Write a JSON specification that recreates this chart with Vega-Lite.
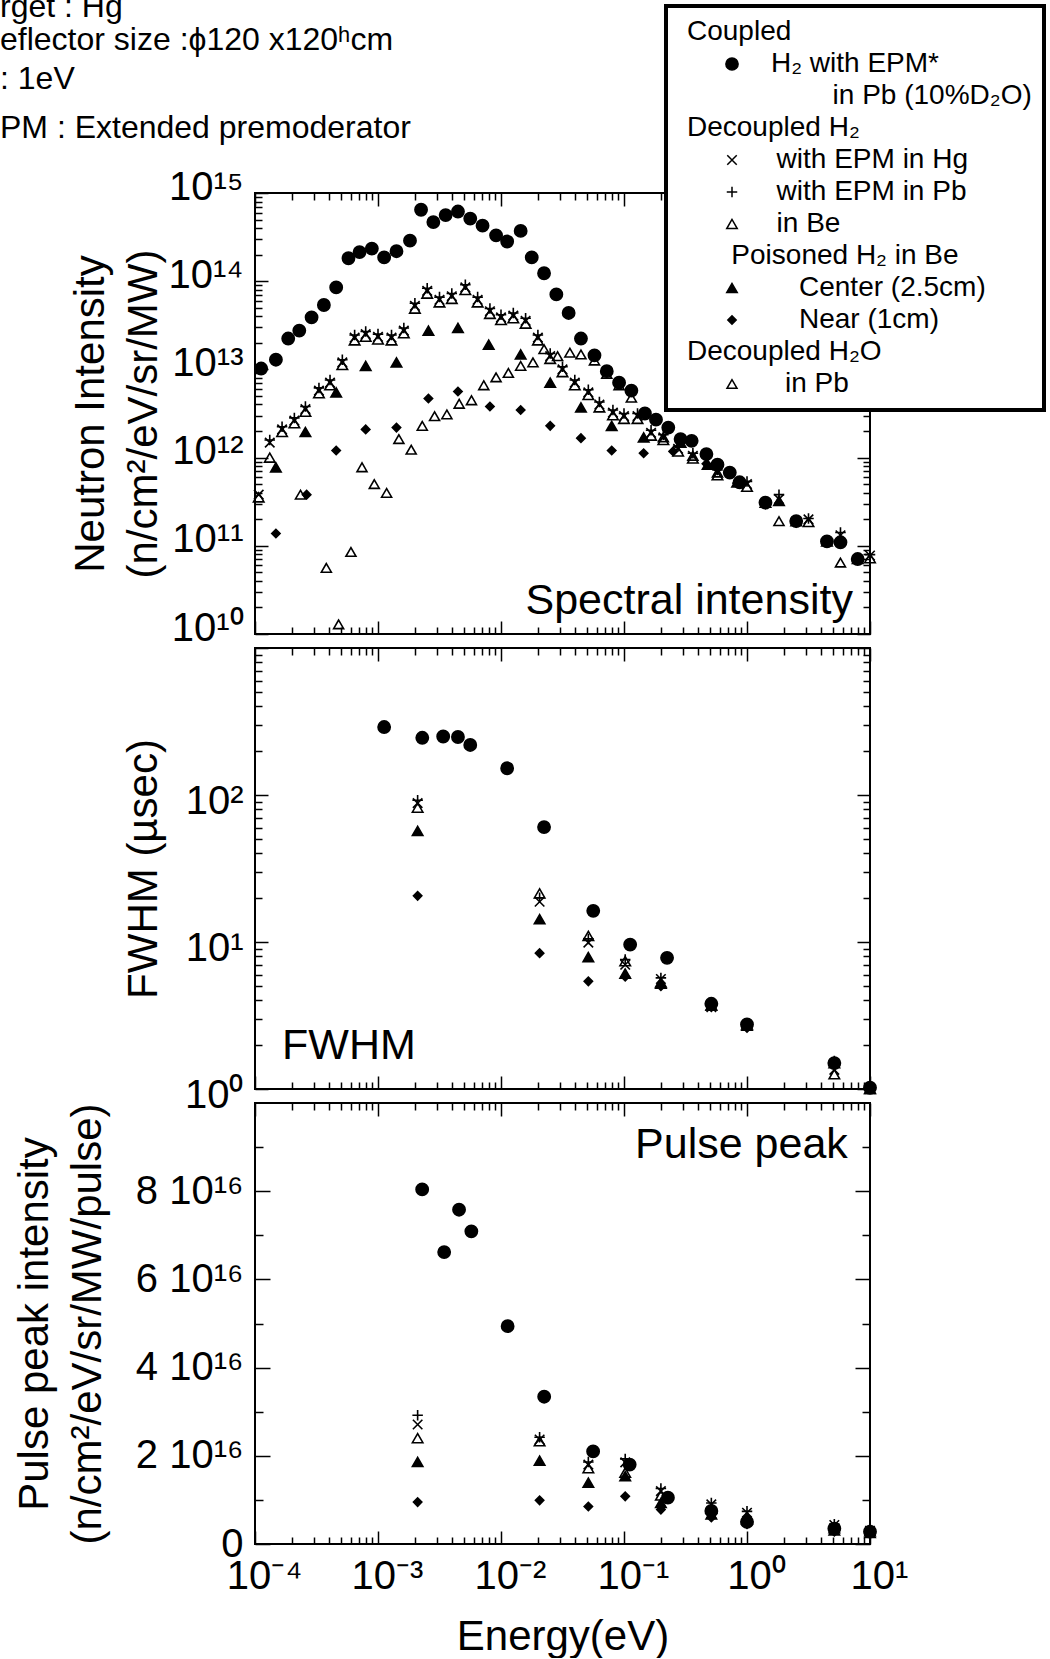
{
"$schema": "https://vega.github.io/schema/vega-lite/v6.json",
"background": "white",
"padding": {"left": 0, "top": -9, "right": 0, "bottom": 0},
"title": {
  "text": ["rget : Hg", "eflector size :ϕ120 x120ʰcm"],
  "subtitle": [": 1eV", "PM : Extended premoderator"],
  "anchor": "start", "frame": "group", "dx": -255, "dy": 142, "offset": 0,
  "font": "Liberation Sans", "fontSize": 32, "fontWeight": "normal", "color": "black", "lineHeight": 33,
  "subtitleFont": "Liberation Sans", "subtitleFontSize": 32, "subtitleColor": "black", "subtitleLineHeight": 49, "subtitlePadding": 7
},
"datasets": {
"spec": [
{"s":"H₂ with EPM*","e":1.122e-4,"v":1.023e13},{"s":"H₂ with EPM*","e":1.479e-4,"v":1.288e13},{"s":"H₂ with EPM*","e":1.862e-4,"v":2.239e13},{"s":"H₂ with EPM*","e":2.291e-4,"v":2.754e13},{"s":"H₂ with EPM*","e":2.884e-4,"v":3.890e13},{"s":"H₂ with EPM*","e":3.631e-4,"v":5.370e13},{"s":"H₂ with EPM*","e":4.571e-4,"v":8.511e13},{"s":"H₂ with EPM*","e":5.754e-4,"v":1.820e14},{"s":"H₂ with EPM*","e":7.079e-4,"v":2.138e14},{"s":"H₂ with EPM*","e":8.913e-4,"v":2.344e14},{"s":"H₂ with EPM*","e":1.122e-3,"v":1.862e14},{"s":"H₂ with EPM*","e":1.413e-3,"v":2.188e14},{"s":"H₂ with EPM*","e":1.820e-3,"v":2.884e14},{"s":"H₂ with EPM*","e":2.239e-3,"v":6.457e14},{"s":"H₂ with EPM*","e":2.818e-3,"v":4.677e14},{"s":"H₂ with EPM*","e":3.548e-3,"v":5.623e14},{"s":"H₂ with EPM*","e":4.467e-3,"v":6.166e14},{"s":"H₂ with EPM*","e":5.623e-3,"v":5.129e14},{"s":"H₂ with EPM*","e":7.079e-3,"v":4.266e14},{"s":"H₂ with EPM*","e":9.120e-3,"v":3.311e14},{"s":"H₂ with EPM*","e":1.122e-2,"v":2.818e14},{"s":"H₂ with EPM*","e":1.445e-2,"v":3.715e14},{"s":"H₂ with EPM*","e":1.778e-2,"v":1.862e14},{"s":"H₂ with EPM*","e":2.239e-2,"v":1.230e14},{"s":"H₂ with EPM*","e":2.818e-2,"v":7.079e13},{"s":"H₂ with EPM*","e":3.548e-2,"v":4.365e13},{"s":"H₂ with EPM*","e":4.467e-2,"v":2.239e13},{"s":"H₂ with EPM*","e":5.754e-2,"v":1.445e13},{"s":"H₂ with EPM*","e":7.244e-2,"v":9.550e12},{"s":"H₂ with EPM*","e":9.120e-2,"v":7.079e12},{"s":"H₂ with EPM*","e":0.1148,"v":5.754e12},{"s":"H₂ with EPM*","e":0.1479,"v":3.162e12},{"s":"H₂ with EPM*","e":0.1820,"v":2.692e12},{"s":"H₂ with EPM*","e":0.2291,"v":2.188e12},{"s":"H₂ with EPM*","e":0.2884,"v":1.622e12},{"s":"H₂ with EPM*","e":0.3548,"v":1.549e12},{"s":"H₂ with EPM*","e":0.4677,"v":1.096e12},{"s":"H₂ with EPM*","e":0.5754,"v":8.318e11},{"s":"H₂ with EPM*","e":0.7244,"v":6.761e11},{"s":"H₂ with EPM*","e":0.8710,"v":5.248e11},{"s":"H₂ with EPM*","e":1.413,"v":3.090e11},{"s":"H₂ with EPM*","e":2.512,"v":1.905e11},{"s":"H₂ with EPM*","e":4.467,"v":1.122e11},{"s":"H₂ with EPM*","e":5.754,"v":1.096e11},{"s":"H₂ with EPM*","e":7.943,"v":7.079e10},
{"s":"with EPM in Hg","e":1.072e-4,"v":3.802e11},{"s":"with EPM in Hg","e":1.318e-4,"v":1.479e12},{"s":"with EPM in Hg","e":1.660e-4,"v":2.089e12},{"s":"with EPM in Hg","e":2.089e-4,"v":2.630e12},{"s":"with EPM in Hg","e":2.570e-4,"v":3.548e12},{"s":"with EPM in Hg","e":3.311e-4,"v":5.754e12},{"s":"with EPM in Hg","e":4.074e-4,"v":7.079e12},{"s":"with EPM in Hg","e":5.129e-4,"v":1.202e13},{"s":"with EPM in Hg","e":6.457e-4,"v":2.291e13},{"s":"with EPM in Hg","e":7.943e-4,"v":2.512e13},{"s":"with EPM in Hg","e":1.0e-3,"v":2.344e13},{"s":"with EPM in Hg","e":1.288e-3,"v":2.291e13},{"s":"with EPM in Hg","e":1.622e-3,"v":2.754e13},{"s":"with EPM in Hg","e":1.995e-3,"v":5.248e13},{"s":"with EPM in Hg","e":2.512e-3,"v":7.762e13},{"s":"with EPM in Hg","e":3.162e-3,"v":6.166e13},{"s":"with EPM in Hg","e":3.981e-3,"v":6.761e13},{"s":"with EPM in Hg","e":5.129e-3,"v":8.511e13},{"s":"with EPM in Hg","e":6.457e-3,"v":6.166e13},{"s":"with EPM in Hg","e":8.128e-3,"v":4.571e13},{"s":"with EPM in Hg","e":1.0e-2,"v":3.890e13},{"s":"with EPM in Hg","e":1.259e-2,"v":4.074e13},{"s":"with EPM in Hg","e":1.585e-2,"v":3.548e13},{"s":"with EPM in Hg","e":1.995e-2,"v":2.291e13},{"s":"with EPM in Hg","e":2.512e-2,"v":1.413e13},{"s":"with EPM in Hg","e":3.162e-2,"v":1.0e13},{"s":"with EPM in Hg","e":3.981e-2,"v":7.079e12},{"s":"with EPM in Hg","e":5.129e-2,"v":5.495e12},{"s":"with EPM in Hg","e":6.310e-2,"v":3.981e12},{"s":"with EPM in Hg","e":8.128e-2,"v":3.236e12},{"s":"with EPM in Hg","e":0.1,"v":2.951e12},{"s":"with EPM in Hg","e":0.1288,"v":2.951e12},{"s":"with EPM in Hg","e":0.1660,"v":1.905e12},{"s":"with EPM in Hg","e":0.2089,"v":1.698e12},{"s":"with EPM in Hg","e":0.2754,"v":1.259e12},{"s":"with EPM in Hg","e":0.3631,"v":1.047e12},{"s":"with EPM in Hg","e":0.5754,"v":6.761e11},{"s":"with EPM in Hg","e":1.0,"v":5.012e11},{"s":"with EPM in Hg","e":1.820,"v":3.388e11},{"s":"with EPM in Hg","e":3.162,"v":1.995e11},{"s":"with EPM in Hg","e":5.754,"v":1.318e11},{"s":"with EPM in Hg","e":10,"v":7.762e10},
{"s":"with EPM in Pb","e":1.318e-4,"v":1.585e12},{"s":"with EPM in Pb","e":1.660e-4,"v":2.239e12},{"s":"with EPM in Pb","e":2.089e-4,"v":2.818e12},{"s":"with EPM in Pb","e":2.570e-4,"v":3.802e12},{"s":"with EPM in Pb","e":3.311e-4,"v":6.166e12},{"s":"with EPM in Pb","e":4.074e-4,"v":7.586e12},{"s":"with EPM in Pb","e":5.129e-4,"v":1.288e13},{"s":"with EPM in Pb","e":6.457e-4,"v":2.455e13},{"s":"with EPM in Pb","e":7.943e-4,"v":2.692e13},{"s":"with EPM in Pb","e":1.0e-3,"v":2.512e13},{"s":"with EPM in Pb","e":1.288e-3,"v":2.455e13},{"s":"with EPM in Pb","e":1.622e-3,"v":2.951e13},{"s":"with EPM in Pb","e":1.995e-3,"v":5.623e13},{"s":"with EPM in Pb","e":2.512e-3,"v":8.318e13},{"s":"with EPM in Pb","e":3.162e-3,"v":6.607e13},{"s":"with EPM in Pb","e":3.981e-3,"v":7.244e13},{"s":"with EPM in Pb","e":5.129e-3,"v":9.120e13},{"s":"with EPM in Pb","e":6.457e-3,"v":6.607e13},{"s":"with EPM in Pb","e":8.128e-3,"v":4.898e13},{"s":"with EPM in Pb","e":1.0e-2,"v":4.169e13},{"s":"with EPM in Pb","e":1.259e-2,"v":4.365e13},{"s":"with EPM in Pb","e":1.585e-2,"v":3.802e13},{"s":"with EPM in Pb","e":1.995e-2,"v":2.455e13},{"s":"with EPM in Pb","e":2.512e-2,"v":1.514e13},{"s":"with EPM in Pb","e":3.162e-2,"v":1.072e13},{"s":"with EPM in Pb","e":3.981e-2,"v":7.586e12},{"s":"with EPM in Pb","e":5.129e-2,"v":5.888e12},{"s":"with EPM in Pb","e":6.310e-2,"v":4.266e12},{"s":"with EPM in Pb","e":8.128e-2,"v":3.467e12},{"s":"with EPM in Pb","e":0.1,"v":3.162e12},{"s":"with EPM in Pb","e":0.1288,"v":3.162e12},{"s":"with EPM in Pb","e":0.1660,"v":2.042e12},{"s":"with EPM in Pb","e":0.2089,"v":1.820e12},{"s":"with EPM in Pb","e":0.2754,"v":1.349e12},{"s":"with EPM in Pb","e":0.3631,"v":1.122e12},{"s":"with EPM in Pb","e":0.5754,"v":7.244e11},{"s":"with EPM in Pb","e":1.0,"v":5.370e11},{"s":"with EPM in Pb","e":1.820,"v":3.802e11},{"s":"with EPM in Pb","e":3.162,"v":2.042e11},{"s":"with EPM in Pb","e":5.754,"v":1.413e11},{"s":"with EPM in Pb","e":10,"v":7.943e10},
{"s":"in Be","e":1.072e-4,"v":3.548e11},{"s":"in Be","e":1.318e-4,"v":1.0e12},{"s":"in Be","e":1.660e-4,"v":1.950e12},{"s":"in Be","e":2.089e-4,"v":2.455e12},{"s":"in Be","e":2.570e-4,"v":3.311e12},{"s":"in Be","e":3.311e-4,"v":5.370e12},{"s":"in Be","e":4.074e-4,"v":6.607e12},{"s":"in Be","e":5.129e-4,"v":1.122e13},{"s":"in Be","e":6.457e-4,"v":2.138e13},{"s":"in Be","e":7.943e-4,"v":2.344e13},{"s":"in Be","e":1.0e-3,"v":2.188e13},{"s":"in Be","e":1.288e-3,"v":2.138e13},{"s":"in Be","e":1.622e-3,"v":2.570e13},{"s":"in Be","e":1.995e-3,"v":4.898e13},{"s":"in Be","e":2.512e-3,"v":7.244e13},{"s":"in Be","e":3.162e-3,"v":5.754e13},{"s":"in Be","e":3.981e-3,"v":6.310e13},{"s":"in Be","e":5.129e-3,"v":7.943e13},{"s":"in Be","e":6.457e-3,"v":5.754e13},{"s":"in Be","e":8.128e-3,"v":4.266e13},{"s":"in Be","e":1.0e-2,"v":3.631e13},{"s":"in Be","e":1.259e-2,"v":3.802e13},{"s":"in Be","e":1.585e-2,"v":3.311e13},{"s":"in Be","e":1.995e-2,"v":2.138e13},{"s":"in Be","e":2.512e-2,"v":1.318e13},{"s":"in Be","e":3.162e-2,"v":9.333e12},{"s":"in Be","e":3.981e-2,"v":6.607e12},{"s":"in Be","e":5.129e-2,"v":5.129e12},{"s":"in Be","e":6.310e-2,"v":3.715e12},{"s":"in Be","e":8.128e-2,"v":3.020e12},{"s":"in Be","e":0.1,"v":2.754e12},{"s":"in Be","e":0.1288,"v":2.754e12},{"s":"in Be","e":0.1660,"v":1.778e12},{"s":"in Be","e":0.2089,"v":1.585e12},{"s":"in Be","e":0.2754,"v":1.175e12},{"s":"in Be","e":0.3631,"v":9.772e11},{"s":"in Be","e":0.5754,"v":6.310e11},{"s":"in Be","e":1.0,"v":4.677e11},{"s":"in Be","e":3.162,"v":1.862e11},{"s":"in Be","e":10,"v":7.244e10},
{"s":"in Pb","e":2.344e-4,"v":3.802e11},{"s":"in Pb","e":3.802e-4,"v":5.623e10},{"s":"in Pb","e":4.786e-4,"v":1.288e10},{"s":"in Pb","e":6.026e-4,"v":8.511e10},{"s":"in Pb","e":7.413e-4,"v":7.762e11},{"s":"in Pb","e":9.333e-4,"v":5.012e11},{"s":"in Pb","e":1.175e-3,"v":3.981e11},{"s":"in Pb","e":1.479e-3,"v":1.622e12},{"s":"in Pb","e":1.862e-3,"v":1.230e12},{"s":"in Pb","e":2.291e-3,"v":2.291e12},{"s":"in Pb","e":2.884e-3,"v":2.951e12},{"s":"in Pb","e":3.631e-3,"v":3.090e12},{"s":"in Pb","e":4.571e-3,"v":4.074e12},{"s":"in Pb","e":5.754e-3,"v":4.467e12},{"s":"in Pb","e":7.244e-3,"v":6.607e12},{"s":"in Pb","e":9.120e-3,"v":8.128e12},{"s":"in Pb","e":1.148e-2,"v":9.120e12},{"s":"in Pb","e":1.445e-2,"v":1.096e13},{"s":"in Pb","e":1.820e-2,"v":1.202e13},{"s":"in Pb","e":2.239e-2,"v":1.698e13},{"s":"in Pb","e":2.884e-2,"v":1.413e13},{"s":"in Pb","e":3.631e-2,"v":1.549e13},{"s":"in Pb","e":4.467e-2,"v":1.479e13},{"s":"in Pb","e":5.754e-2,"v":1.259e13},{"s":"in Pb","e":7.244e-2,"v":8.913e12},{"s":"in Pb","e":9.120e-2,"v":6.607e12},{"s":"in Pb","e":0.1148,"v":4.786e12},{"s":"in Pb","e":0.2089,"v":1.698e12},{"s":"in Pb","e":0.3631,"v":1.047e12},{"s":"in Pb","e":0.5754,"v":6.761e11},{"s":"in Pb","e":1.820,"v":1.905e11},{"s":"in Pb","e":5.754,"v":6.457e10},
{"s":"Center (2.5cm)","e":1.479e-4,"v":7.762e11},{"s":"Center (2.5cm)","e":2.570e-4,"v":1.950e12},{"s":"Center (2.5cm)","e":4.571e-4,"v":5.495e12},{"s":"Center (2.5cm)","e":7.943e-4,"v":1.096e13},{"s":"Center (2.5cm)","e":1.413e-3,"v":1.202e13},{"s":"Center (2.5cm)","e":2.570e-3,"v":2.754e13},{"s":"Center (2.5cm)","e":4.467e-3,"v":2.951e13},{"s":"Center (2.5cm)","e":7.943e-3,"v":1.905e13},{"s":"Center (2.5cm)","e":1.445e-2,"v":1.479e13},{"s":"Center (2.5cm)","e":2.512e-2,"v":7.079e12},{"s":"Center (2.5cm)","e":4.467e-2,"v":3.715e12},{"s":"Center (2.5cm)","e":7.943e-2,"v":2.291e12},{"s":"Center (2.5cm)","e":0.1445,"v":1.698e12},{"s":"Center (2.5cm)","e":0.2884,"v":1.479e12},{"s":"Center (2.5cm)","e":0.4786,"v":8.318e11},{"s":"Center (2.5cm)","e":0.8318,"v":5.248e11},{"s":"Center (2.5cm)","e":1.413,"v":3.090e11},{"s":"Center (2.5cm)","e":1.820,"v":3.236e11},{"s":"Center (2.5cm)","e":2.512,"v":1.905e11},{"s":"Center (2.5cm)","e":4.467,"v":1.122e11},{"s":"Center (2.5cm)","e":7.943,"v":7.079e10},
{"s":"Near (1cm)","e":1.479e-4,"v":1.380e11},{"s":"Near (1cm)","e":2.630e-4,"v":3.802e11},{"s":"Near (1cm)","e":4.571e-4,"v":1.202e12},{"s":"Near (1cm)","e":7.943e-4,"v":2.089e12},{"s":"Near (1cm)","e":1.413e-3,"v":2.188e12},{"s":"Near (1cm)","e":2.570e-3,"v":4.677e12},{"s":"Near (1cm)","e":4.467e-3,"v":5.623e12},{"s":"Near (1cm)","e":8.128e-3,"v":3.802e12},{"s":"Near (1cm)","e":1.445e-2,"v":3.467e12},{"s":"Near (1cm)","e":2.512e-2,"v":2.291e12},{"s":"Near (1cm)","e":4.467e-2,"v":1.660e12},{"s":"Near (1cm)","e":7.943e-2,"v":1.202e12},{"s":"Near (1cm)","e":0.1445,"v":1.122e12},{"s":"Near (1cm)","e":0.2512,"v":1.175e12},{"s":"Near (1cm)","e":0.4677,"v":8.511e11},{"s":"Near (1cm)","e":0.8318,"v":5.129e11},{"s":"Near (1cm)","e":1.413,"v":2.951e11},{"s":"Near (1cm)","e":2.512,"v":1.820e11},{"s":"Near (1cm)","e":4.467,"v":1.096e11},{"s":"Near (1cm)","e":7.943,"v":6.918e10}
],
"fwhm": [
{"s":"H₂ with EPM*","e":1.122e-3,"v":290},{"s":"H₂ with EPM*","e":2.291e-3,"v":245},{"s":"H₂ with EPM*","e":3.388e-3,"v":250},{"s":"H₂ with EPM*","e":4.467e-3,"v":248},{"s":"H₂ with EPM*","e":5.623e-3,"v":219},{"s":"H₂ with EPM*","e":1.122e-2,"v":152},{"s":"H₂ with EPM*","e":2.239e-2,"v":60.5},{"s":"H₂ with EPM*","e":5.623e-2,"v":16.3},{"s":"H₂ with EPM*","e":0.1122,"v":9.6},{"s":"H₂ with EPM*","e":0.2239,"v":7.8},{"s":"H₂ with EPM*","e":0.5129,"v":3.8},{"s":"H₂ with EPM*","e":1.0,"v":2.75},{"s":"H₂ with EPM*","e":5.129,"v":1.5},{"s":"H₂ with EPM*","e":10,"v":1.02},
{"s":"with EPM in Hg","e":2.1e-3,"v":88},{"s":"with EPM in Hg","e":2.06e-2,"v":18.8},{"s":"with EPM in Hg","e":5.13e-2,"v":9.9},{"s":"with EPM in Hg","e":0.1023,"v":7.0},{"s":"with EPM in Hg","e":0.1995,"v":5.6},{"s":"with EPM in Hg","e":0.5129,"v":3.6},{"s":"with EPM in Hg","e":1.0,"v":2.7},{"s":"with EPM in Hg","e":5.129,"v":1.35},{"s":"with EPM in Hg","e":10,"v":1.0},
{"s":"with EPM in Pb","e":2.1e-3,"v":92},{"s":"with EPM in Pb","e":2.06e-2,"v":20},{"s":"with EPM in Pb","e":5.13e-2,"v":10.5},{"s":"with EPM in Pb","e":0.1023,"v":7.6},{"s":"with EPM in Pb","e":0.1995,"v":5.7},{"s":"with EPM in Pb","e":0.5129,"v":3.8},{"s":"with EPM in Pb","e":1.0,"v":2.8},{"s":"with EPM in Pb","e":5.129,"v":1.55},{"s":"with EPM in Pb","e":10,"v":1.02},
{"s":"in Be","e":2.1e-3,"v":82},{"s":"in Be","e":2.06e-2,"v":21.4},{"s":"in Be","e":5.13e-2,"v":11},{"s":"in Be","e":0.1023,"v":7.4},{"s":"in Be","e":0.1995,"v":5.3},{"s":"in Be","e":0.5129,"v":3.7},{"s":"in Be","e":1.0,"v":2.7},{"s":"in Be","e":5.129,"v":1.26},{"s":"in Be","e":10,"v":1.0},
{"s":"Center (2.5cm)","e":2.1e-3,"v":57},{"s":"Center (2.5cm)","e":2.06e-2,"v":14.3},{"s":"Center (2.5cm)","e":5.13e-2,"v":7.9},{"s":"Center (2.5cm)","e":0.1023,"v":6.1},{"s":"Center (2.5cm)","e":0.1995,"v":5.2},{"s":"Center (2.5cm)","e":0.5129,"v":3.7},{"s":"Center (2.5cm)","e":1.0,"v":2.75},{"s":"Center (2.5cm)","e":5.129,"v":1.5},{"s":"Center (2.5cm)","e":10,"v":1.0},
{"s":"Near (1cm)","e":2.1e-3,"v":20.6},{"s":"Near (1cm)","e":2.06e-2,"v":8.4},{"s":"Near (1cm)","e":5.13e-2,"v":5.4},{"s":"Near (1cm)","e":0.1023,"v":5.8},{"s":"Near (1cm)","e":0.1995,"v":5.0},{"s":"Near (1cm)","e":0.5129,"v":3.6},{"s":"Near (1cm)","e":1.0,"v":2.6},{"s":"Near (1cm)","e":5.129,"v":1.45}
],
"peak": [
{"s":"H₂ with EPM*","e":2.286e-3,"v":8.04e16},{"s":"H₂ with EPM*","e":3.451e-3,"v":6.62e16},{"s":"H₂ with EPM*","e":4.56e-3,"v":7.58e16},{"s":"H₂ with EPM*","e":5.74e-3,"v":7.09e16},{"s":"H₂ with EPM*","e":1.132e-2,"v":4.94e16},{"s":"H₂ with EPM*","e":2.244e-2,"v":3.34e16},{"s":"H₂ with EPM*","e":5.61e-2,"v":2.10e16},{"s":"H₂ with EPM*","e":0.1112,"v":1.80e16},{"s":"H₂ with EPM*","e":0.2275,"v":1.05e16},{"s":"H₂ with EPM*","e":0.513,"v":0.75e16},{"s":"H₂ with EPM*","e":1.0,"v":0.5e16},{"s":"H₂ with EPM*","e":5.13,"v":0.35e16},{"s":"H₂ with EPM*","e":10,"v":0.28e16},
{"s":"with EPM in Hg","e":2.1e-3,"v":2.71e16},{"s":"with EPM in Hg","e":2.06e-2,"v":2.37e16},{"s":"with EPM in Hg","e":5.13e-2,"v":1.80e16},{"s":"with EPM in Hg","e":0.1023,"v":1.85e16},{"s":"with EPM in Hg","e":0.1995,"v":1.2e16},{"s":"with EPM in Hg","e":0.5129,"v":0.9e16},{"s":"with EPM in Hg","e":1.0,"v":0.71e16},{"s":"with EPM in Hg","e":5.129,"v":0.43e16},{"s":"with EPM in Hg","e":10,"v":0.3e16},
{"s":"with EPM in Pb","e":2.1e-3,"v":2.92e16},{"s":"with EPM in Pb","e":2.06e-2,"v":2.42e16},{"s":"with EPM in Pb","e":5.13e-2,"v":1.86e16},{"s":"with EPM in Pb","e":0.1023,"v":1.93e16},{"s":"with EPM in Pb","e":0.1995,"v":1.26e16},{"s":"with EPM in Pb","e":0.5129,"v":0.93e16},{"s":"with EPM in Pb","e":1.0,"v":0.74e16},{"s":"with EPM in Pb","e":5.129,"v":0.45e16},{"s":"with EPM in Pb","e":10,"v":0.31e16},
{"s":"in Be","e":2.1e-3,"v":2.40e16},{"s":"in Be","e":2.06e-2,"v":2.33e16},{"s":"in Be","e":5.13e-2,"v":1.72e16},{"s":"in Be","e":0.1023,"v":1.62e16},{"s":"in Be","e":0.1995,"v":1.1e16},{"s":"in Be","e":0.5129,"v":0.8e16},{"s":"in Be","e":1.0,"v":0.62e16},{"s":"in Be","e":5.129,"v":0.36e16},{"s":"in Be","e":10,"v":0.29e16},
{"s":"Center (2.5cm)","e":2.1e-3,"v":1.86e16},{"s":"Center (2.5cm)","e":2.06e-2,"v":1.89e16},{"s":"Center (2.5cm)","e":5.13e-2,"v":1.39e16},{"s":"Center (2.5cm)","e":0.1023,"v":1.54e16},{"s":"Center (2.5cm)","e":0.1995,"v":0.93e16},{"s":"Center (2.5cm)","e":0.5129,"v":0.67e16},{"s":"Center (2.5cm)","e":1.0,"v":0.56e16},{"s":"Center (2.5cm)","e":5.129,"v":0.31e16},{"s":"Center (2.5cm)","e":10,"v":0.25e16},
{"s":"Near (1cm)","e":2.1e-3,"v":0.95e16},{"s":"Near (1cm)","e":2.06e-2,"v":0.99e16},{"s":"Near (1cm)","e":5.13e-2,"v":0.85e16},{"s":"Near (1cm)","e":0.1023,"v":1.08e16},{"s":"Near (1cm)","e":0.1995,"v":0.78e16},{"s":"Near (1cm)","e":0.5129,"v":0.6e16},{"s":"Near (1cm)","e":1.0,"v":0.45e16},{"s":"Near (1cm)","e":5.129,"v":0.28e16}
]
},
"spacing": 14,
"bounds": "flush",
"resolve": {"legend": {"shape": "independent", "size": "independent", "fill": "independent"}},
"vconcat": [
{
  "width": 615, "height": 441,
  "data": {"name": "spec"},
  "layer": [
    {
      "mark": {"type": "point", "opacity": 1, "stroke": "black", "strokeWidth": 1.6},
      "encoding": {
        "x": {"field": "e", "type": "quantitative", "scale": {"type": "log", "domain": [0.0001, 10], "nice": false},
          "axis": {"orient": "bottom", "labels": false, "title": null, "tickSize": -13, "values": [0.0001,0.001,0.01,0.1,1,10]}},
        "y": {"field": "v", "type": "quantitative", "scale": {"type": "log", "domain": [1e10, 1e15], "nice": false},
          "axis": {"orient": "left", "title": ["Neutron Intensity", "(n/cm²/eV/sr/MW)"], "tickSize": -13, "labelPadding": 25,
            "values": [1e10,1e11,1e12,1e13,1e14,1e15],
            "labelExpr": "'10'+(round(log(datum.value)/LN10)<0?'⁻':'')+(abs(round(log(datum.value)/LN10))>=10?'¹':'')+substring('⁰¹²³⁴⁵⁶⁷⁸⁹',abs(round(log(datum.value)/LN10))%10,abs(round(log(datum.value)/LN10))%10+1)",
            "labelOffset": -6,
            "titleX": -165, "titleY": 220.5, "titleAngle": -90, "titleAlign": "center", "titleBaseline": "middle", "titleLineHeight": 53}},
        "shape": {"field": "s", "type": "nominal",
          "scale": {"domain": ["Coupled","H₂ with EPM*","in Pb (10%D₂O)","Decoupled H₂","with EPM in Hg","with EPM in Pb","in Be","Poisoned H₂ in Be","Center (2.5cm)","Near (1cm)","Decoupled H₂O","in Pb"],
            "range": ["circle","circle","circle","circle","M-1,-1L1,1M-1,1L1,-1","M-1,0L1,0M0,-1L0,1","triangle-up","circle","triangle-up","diamond","circle","triangle-up"]},
          "legend": {"orient": "none", "legendX": 411, "legendY": -187, "title": null,
            "values": ["Coupled","H₂ with EPM*","in Pb (10%D₂O)","Decoupled H₂","with EPM in Hg","with EPM in Pb","in Be","Poisoned H₂ in Be","Center (2.5cm)","Near (1cm)","Decoupled H₂O","in Pb"],
            "labelExpr": "(datum.label==='Coupled'||datum.label==='Decoupled H₂'||datum.label==='Decoupled H₂O') ? datum.label : datum.label==='Poisoned H₂ in Be' ? '\u200b\u2003\u2002\u200a'+datum.label : datum.label==='H₂ with EPM*' ? '\u200b\u2003\u2003\u2003'+datum.label : datum.label==='in Pb (10%D₂O)' ? '\u200b\u2003\u2003\u2003\u2003\u2003\u2009'+datum.label : (datum.label==='Center (2.5cm)'||datum.label==='Near (1cm)') ? '\u200b\u2003\u2003\u2003\u2003'+datum.label : datum.label==='in Pb' ? '\u200b\u2003\u2003\u2003\u2002'+datum.label : '\u200b\u2003\u2003\u2003\u2009'+datum.label",
            "padding": 12, "symbolOffset": 40, "labelOffset": -59, "rowPadding": 4,
            "labelFontSize": 28, "labelFont": "Liberation Sans", "labelColor": "black", "labelLimit": 600,
            "fillColor": "white", "strokeColor": "black", "zindex": 5}},
        "size": {"field": "s", "type": "nominal",
          "scale": {"type": "ordinal", "domain": ["Coupled","H₂ with EPM*","in Pb (10%D₂O)","Decoupled H₂","with EPM in Hg","with EPM in Pb","in Be","Poisoned H₂ in Be","Center (2.5cm)","Near (1cm)","Decoupled H₂O","in Pb"],
            "range": [0,150,0,0,90,110,110,0,110,70,0,100]}},
        "fill": {"field": "s", "type": "nominal",
          "scale": {"domain": ["Coupled","H₂ with EPM*","in Pb (10%D₂O)","Decoupled H₂","with EPM in Hg","with EPM in Pb","in Be","Poisoned H₂ in Be","Center (2.5cm)","Near (1cm)","Decoupled H₂O","in Pb"],
            "range": ["transparent","black","transparent","transparent","transparent","transparent","transparent","transparent","black","black","transparent","transparent"]}}
      }
    },
    {
      "mark": {"type": "point", "opacity": 0},
      "encoding": {
        "x": {"field": "e", "type": "quantitative", "scale": {"type": "log", "domain": [0.0001, 10], "nice": false},
          "axis": {"orient": "bottom", "labels": false, "title": null, "tickSize": -7,
            "values": [0.0002,0.0003,0.0004,0.0005,0.0006,0.0007,0.0008,0.0009,0.002,0.003,0.004,0.005,0.006,0.007,0.008,0.009,0.02,0.03,0.04,0.05,0.06,0.07,0.08,0.09,0.2,0.3,0.4,0.5,0.6,0.7,0.8,0.9,2,3,4,5,6,7,8,9]}},
        "y": {"field": "v", "type": "quantitative", "scale": {"type": "log", "domain": [1e10, 1e15], "nice": false},
          "axis": {"orient": "left", "labels": false, "title": null, "tickSize": -7,
            "values": [2e10,3e10,4e10,5e10,6e10,7e10,8e10,9e10,2e11,3e11,4e11,5e11,6e11,7e11,8e11,9e11,2e12,3e12,4e12,5e12,6e12,7e12,8e12,9e12,2e13,3e13,4e13,5e13,6e13,7e13,8e13,9e13,2e14,3e14,4e14,5e14,6e14,7e14,8e14,9e14]}}
      }
    },
    {
      "mark": {"type": "point", "opacity": 0},
      "encoding": {
        "x": {"field": "e", "type": "quantitative", "scale": {"type": "log", "domain": [0.0001, 10], "nice": false},
          "axis": {"orient": "top", "labels": false, "title": null, "tickSize": -13, "values": [0.0001,0.001,0.01,0.1,1,10]}},
        "y": {"field": "v", "type": "quantitative", "scale": {"type": "log", "domain": [1e10, 1e15], "nice": false},
          "axis": {"orient": "right", "labels": false, "title": null, "tickSize": -13, "values": [1e10,1e11,1e12,1e13,1e14,1e15]}}
      }
    },
    {
      "mark": {"type": "point", "opacity": 0},
      "encoding": {
        "x": {"field": "e", "type": "quantitative", "scale": {"type": "log", "domain": [0.0001, 10], "nice": false},
          "axis": {"orient": "top", "labels": false, "title": null, "tickSize": -7,
            "values": [0.0002,0.0003,0.0004,0.0005,0.0006,0.0007,0.0008,0.0009,0.002,0.003,0.004,0.005,0.006,0.007,0.008,0.009,0.02,0.03,0.04,0.05,0.06,0.07,0.08,0.09,0.2,0.3,0.4,0.5,0.6,0.7,0.8,0.9,2,3,4,5,6,7,8,9]}},
        "y": {"field": "v", "type": "quantitative", "scale": {"type": "log", "domain": [1e10, 1e15], "nice": false},
          "axis": {"orient": "right", "labels": false, "title": null, "tickSize": -7,
            "values": [2e10,3e10,4e10,5e10,6e10,7e10,8e10,9e10,2e11,3e11,4e11,5e11,6e11,7e11,8e11,9e11,2e12,3e12,4e12,5e12,6e12,7e12,8e12,9e12,2e13,3e13,4e13,5e13,6e13,7e13,8e13,9e13,2e14,3e14,4e14,5e14,6e14,7e14,8e14,9e14]}}
      }
    },
    {
      "data": {"values": [{"t": "Spectral intensity"}]},
      "mark": {"type": "text", "align": "right", "baseline": "middle", "fontSize": 43, "font": "Liberation Sans", "color": "black"},
      "encoding": {
        "x": {"datum": 7.26, "type": "quantitative", "axis": null},
        "y": {"datum": 2.37e10, "type": "quantitative", "axis": null},
        "text": {"field": "t"}
      }
    }
  ],
  "resolve": {"axis": {"x": "independent", "y": "independent"}}
},
{
  "width": 615, "height": 441,
  "data": {"name": "fwhm"},
  "layer": [
    {
      "mark": {"type": "point", "opacity": 1, "stroke": "black", "strokeWidth": 1.6},
      "encoding": {
        "x": {"field": "e", "type": "quantitative", "scale": {"type": "log", "domain": [0.0001, 10], "nice": false},
          "axis": {"orient": "bottom", "labels": false, "title": null, "tickSize": -13, "values": [0.0001,0.001,0.01,0.1,1,10]}},
        "y": {"field": "v", "type": "quantitative", "scale": {"type": "log", "domain": [1, 1000], "nice": false},
          "axis": {"orient": "left", "title": "FWHM (µsec)", "tickSize": -13, "labelPadding": 25,
            "values": [1,10,100,1000],
            "labelExpr": "datum.value>=999 ? '' : '10'+substring('⁰¹²³⁴⁵⁶⁷⁸⁹',abs(round(log(datum.value)/LN10))%10,abs(round(log(datum.value)/LN10))%10+1)",
            "labelOffset": 6,
            "titleX": -112, "titleY": 220.5, "titleAngle": -90, "titleAlign": "center", "titleBaseline": "middle"}},
        "shape": {"field": "s", "type": "nominal", "legend": null,
          "scale": {"domain": ["Coupled","H₂ with EPM*","in Pb (10%D₂O)","Decoupled H₂","with EPM in Hg","with EPM in Pb","in Be","Poisoned H₂ in Be","Center (2.5cm)","Near (1cm)","Decoupled H₂O","in Pb"],
            "range": ["circle","circle","circle","circle","M-1,-1L1,1M-1,1L1,-1","M-1,0L1,0M0,-1L0,1","triangle-up","circle","triangle-up","diamond","circle","triangle-up"]}},
        "size": {"field": "s", "type": "nominal", "legend": null,
          "scale": {"type": "ordinal", "domain": ["Coupled","H₂ with EPM*","in Pb (10%D₂O)","Decoupled H₂","with EPM in Hg","with EPM in Pb","in Be","Poisoned H₂ in Be","Center (2.5cm)","Near (1cm)","Decoupled H₂O","in Pb"],
            "range": [0,150,0,0,90,110,110,0,110,70,0,100]}},
        "fill": {"field": "s", "type": "nominal", "legend": null,
          "scale": {"domain": ["Coupled","H₂ with EPM*","in Pb (10%D₂O)","Decoupled H₂","with EPM in Hg","with EPM in Pb","in Be","Poisoned H₂ in Be","Center (2.5cm)","Near (1cm)","Decoupled H₂O","in Pb"],
            "range": ["transparent","black","transparent","transparent","transparent","transparent","transparent","transparent","black","black","transparent","transparent"]}}
      }
    },
    {
      "mark": {"type": "point", "opacity": 0},
      "encoding": {
        "x": {"field": "e", "type": "quantitative", "scale": {"type": "log", "domain": [0.0001, 10], "nice": false},
          "axis": {"orient": "bottom", "labels": false, "title": null, "tickSize": -7,
            "values": [0.0002,0.0003,0.0004,0.0005,0.0006,0.0007,0.0008,0.0009,0.002,0.003,0.004,0.005,0.006,0.007,0.008,0.009,0.02,0.03,0.04,0.05,0.06,0.07,0.08,0.09,0.2,0.3,0.4,0.5,0.6,0.7,0.8,0.9,2,3,4,5,6,7,8,9]}},
        "y": {"field": "v", "type": "quantitative", "scale": {"type": "log", "domain": [1, 1000], "nice": false},
          "axis": {"orient": "left", "labels": false, "title": null, "tickSize": -7,
            "values": [2,3,4,5,6,7,8,9,20,30,40,50,60,70,80,90,200,300,400,500,600,700,800,900]}}
      }
    },
    {
      "mark": {"type": "point", "opacity": 0},
      "encoding": {
        "x": {"field": "e", "type": "quantitative", "scale": {"type": "log", "domain": [0.0001, 10], "nice": false},
          "axis": {"orient": "top", "labels": false, "title": null, "tickSize": -13, "values": [0.0001,0.001,0.01,0.1,1,10]}},
        "y": {"field": "v", "type": "quantitative", "scale": {"type": "log", "domain": [1, 1000], "nice": false},
          "axis": {"orient": "right", "labels": false, "title": null, "tickSize": -13, "values": [1,10,100,1000]}}
      }
    },
    {
      "mark": {"type": "point", "opacity": 0},
      "encoding": {
        "x": {"field": "e", "type": "quantitative", "scale": {"type": "log", "domain": [0.0001, 10], "nice": false},
          "axis": {"orient": "top", "labels": false, "title": null, "tickSize": -7,
            "values": [0.0002,0.0003,0.0004,0.0005,0.0006,0.0007,0.0008,0.0009,0.002,0.003,0.004,0.005,0.006,0.007,0.008,0.009,0.02,0.03,0.04,0.05,0.06,0.07,0.08,0.09,0.2,0.3,0.4,0.5,0.6,0.7,0.8,0.9,2,3,4,5,6,7,8,9]}},
        "y": {"field": "v", "type": "quantitative", "scale": {"type": "log", "domain": [1, 1000], "nice": false},
          "axis": {"orient": "right", "labels": false, "title": null, "tickSize": -7,
            "values": [2,3,4,5,6,7,8,9,20,30,40,50,60,70,80,90,200,300,400,500,600,700,800,900]}}
      }
    },
    {
      "data": {"values": [{"t": "FWHM"}]},
      "mark": {"type": "text", "align": "left", "baseline": "middle", "fontSize": 43, "font": "Liberation Sans", "color": "black"},
      "encoding": {
        "x": {"datum": 1.66e-4, "type": "quantitative", "axis": null},
        "y": {"datum": 1.96, "type": "quantitative", "axis": null},
        "text": {"field": "t"}
      }
    }
  ],
  "resolve": {"axis": {"x": "independent", "y": "independent"}}
},
{
  "width": 615, "height": 441,
  "data": {"name": "peak"},
  "layer": [
    {
      "mark": {"type": "point", "opacity": 1, "stroke": "black", "strokeWidth": 1.6},
      "encoding": {
        "x": {"field": "e", "type": "quantitative", "scale": {"type": "log", "domain": [0.0001, 10], "nice": false},
          "axis": {"orient": "bottom", "title": "Energy(eV)", "tickSize": -13, "labelPadding": 25,
            "values": [0.0001,0.001,0.01,0.1,1,10],
            "labelExpr": "'10'+(round(log(datum.value)/LN10)<0?'⁻':'')+substring('⁰¹²³⁴⁵⁶⁷⁸⁹',abs(round(log(datum.value)/LN10))%10,abs(round(log(datum.value)/LN10))%10+1)",
            "labelOffset": 9,
            "titleX": 307.5, "titleY": 92, "titleAngle": 0, "titleAlign": "center", "titleBaseline": "middle"}},
        "y": {"field": "v", "type": "quantitative", "scale": {"type": "linear", "domain": [0, 1e17], "nice": false},
          "axis": {"orient": "left", "title": ["Pulse peak intensity", "(n/cm²/eV/sr/MW/pulse)"], "tickSize": -15, "labelPadding": 27,
            "values": [0,2e16,4e16,6e16,8e16],
            "labelExpr": "datum.value==0 ? '0' : format(round(datum.value/1e16),'d')+' 10¹⁶'",
            "titleX": -221, "titleY": 220.5, "titleAngle": -90, "titleAlign": "center", "titleBaseline": "middle", "titleLineHeight": 53}},
        "shape": {"field": "s", "type": "nominal", "legend": null,
          "scale": {"domain": ["Coupled","H₂ with EPM*","in Pb (10%D₂O)","Decoupled H₂","with EPM in Hg","with EPM in Pb","in Be","Poisoned H₂ in Be","Center (2.5cm)","Near (1cm)","Decoupled H₂O","in Pb"],
            "range": ["circle","circle","circle","circle","M-1,-1L1,1M-1,1L1,-1","M-1,0L1,0M0,-1L0,1","triangle-up","circle","triangle-up","diamond","circle","triangle-up"]}},
        "size": {"field": "s", "type": "nominal", "legend": null,
          "scale": {"type": "ordinal", "domain": ["Coupled","H₂ with EPM*","in Pb (10%D₂O)","Decoupled H₂","with EPM in Hg","with EPM in Pb","in Be","Poisoned H₂ in Be","Center (2.5cm)","Near (1cm)","Decoupled H₂O","in Pb"],
            "range": [0,150,0,0,90,110,110,0,110,70,0,100]}},
        "fill": {"field": "s", "type": "nominal", "legend": null,
          "scale": {"domain": ["Coupled","H₂ with EPM*","in Pb (10%D₂O)","Decoupled H₂","with EPM in Hg","with EPM in Pb","in Be","Poisoned H₂ in Be","Center (2.5cm)","Near (1cm)","Decoupled H₂O","in Pb"],
            "range": ["transparent","black","transparent","transparent","transparent","transparent","transparent","transparent","black","black","transparent","transparent"]}}
      }
    },
    {
      "mark": {"type": "point", "opacity": 0},
      "encoding": {
        "x": {"field": "e", "type": "quantitative", "scale": {"type": "log", "domain": [0.0001, 10], "nice": false},
          "axis": {"orient": "bottom", "labels": false, "title": null, "tickSize": -7,
            "values": [0.0002,0.0003,0.0004,0.0005,0.0006,0.0007,0.0008,0.0009,0.002,0.003,0.004,0.005,0.006,0.007,0.008,0.009,0.02,0.03,0.04,0.05,0.06,0.07,0.08,0.09,0.2,0.3,0.4,0.5,0.6,0.7,0.8,0.9,2,3,4,5,6,7,8,9]}},
        "y": {"field": "v", "type": "quantitative", "scale": {"type": "linear", "domain": [0, 1e17], "nice": false},
          "axis": {"orient": "left", "labels": false, "title": null, "tickSize": -8, "values": [1e16,3e16,5e16,7e16,9e16]}}
      }
    },
    {
      "mark": {"type": "point", "opacity": 0},
      "encoding": {
        "x": {"field": "e", "type": "quantitative", "scale": {"type": "log", "domain": [0.0001, 10], "nice": false},
          "axis": {"orient": "top", "labels": false, "title": null, "tickSize": -13, "values": [0.0001,0.001,0.01,0.1,1,10]}},
        "y": {"field": "v", "type": "quantitative", "scale": {"type": "linear", "domain": [0, 1e17], "nice": false},
          "axis": {"orient": "right", "labels": false, "title": null, "tickSize": -15, "values": [0,2e16,4e16,6e16,8e16]}}
      }
    },
    {
      "mark": {"type": "point", "opacity": 0},
      "encoding": {
        "x": {"field": "e", "type": "quantitative", "scale": {"type": "log", "domain": [0.0001, 10], "nice": false},
          "axis": {"orient": "top", "labels": false, "title": null, "tickSize": -7,
            "values": [0.0002,0.0003,0.0004,0.0005,0.0006,0.0007,0.0008,0.0009,0.002,0.003,0.004,0.005,0.006,0.007,0.008,0.009,0.02,0.03,0.04,0.05,0.06,0.07,0.08,0.09,0.2,0.3,0.4,0.5,0.6,0.7,0.8,0.9,2,3,4,5,6,7,8,9]}},
        "y": {"field": "v", "type": "quantitative", "scale": {"type": "linear", "domain": [0, 1e17], "nice": false},
          "axis": {"orient": "right", "labels": false, "title": null, "tickSize": -8, "values": [1e16,3e16,5e16,7e16,9e16]}}
      }
    },
    {
      "data": {"values": [{"t": "Pulse peak"}]},
      "mark": {"type": "text", "align": "right", "baseline": "middle", "fontSize": 43, "font": "Liberation Sans", "color": "black"},
      "encoding": {
        "x": {"datum": 6.6, "type": "quantitative", "axis": null},
        "y": {"datum": 9.04e16, "type": "quantitative", "axis": null},
        "text": {"field": "t"}
      }
    }
  ],
  "resolve": {"axis": {"x": "independent", "y": "independent"}}
}
],
"config": {
  "view": {"stroke": "black", "strokeWidth": 2},
  "font": "Liberation Sans",
  "legend": {"strokeWidth": 4},
  "axis": {"grid": false, "domain": false, "ticks": true, "tickColor": "black", "tickWidth": 1.5,
    "labelFont": "Liberation Sans", "labelFontSize": 40, "labelColor": "black",
    "labelOverlap": false, "labelFlush": false, "labelBound": false,
    "titleFont": "Liberation Sans", "titleFontSize": 42, "titleFontWeight": "normal", "titleColor": "black"}
}
}
